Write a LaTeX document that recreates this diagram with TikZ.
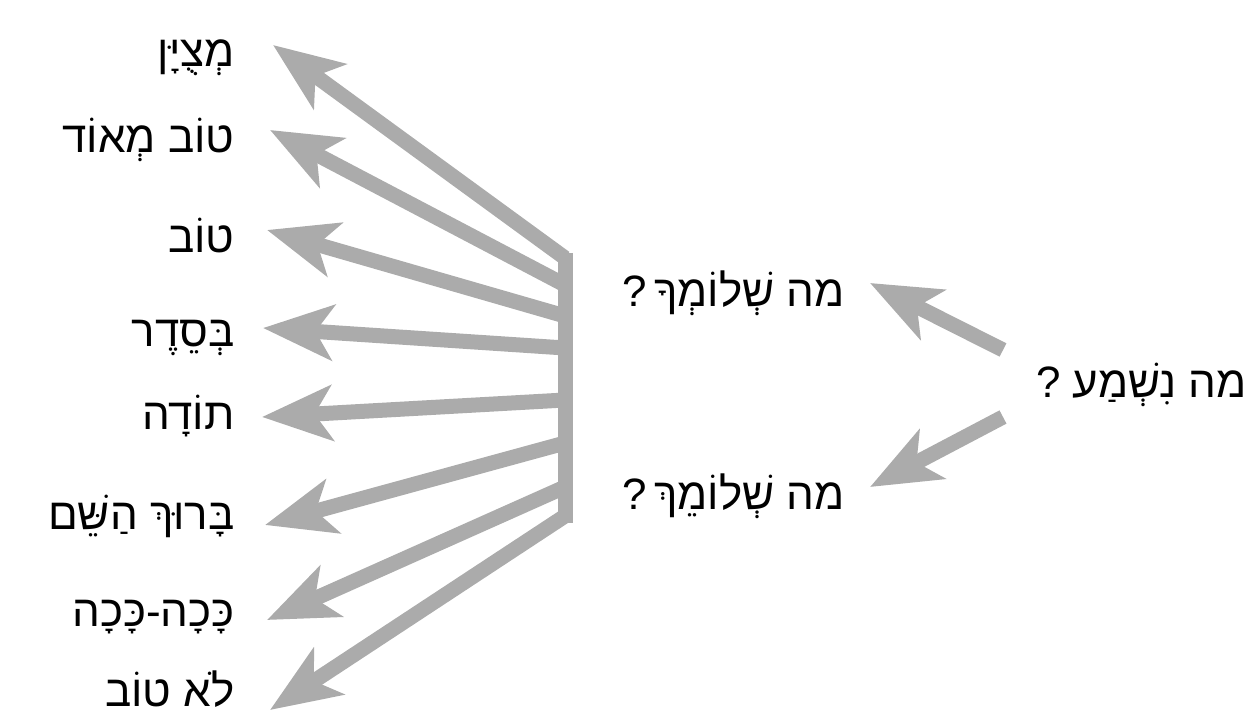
\documentclass[tikz,border=0pt]{standalone}
\usepackage{fontspec}
\newfontfamily\hebfont[Script=Hebrew]{Liberation Sans}
\TeXXeTstate=1
\usetikzlibrary{arrows.meta}

\begin{document}
\begin{tikzpicture}[x=0.02cm, y=-0.02cm,
    heb/.style={font=\hebfont\fontsize{25}{30}\selectfont, inner sep=0pt},
    fat/.style={line width=0.3cm, draw=black!33,
        -{Stealth[length=1.4cm, width=1.1cm, inset=0.35cm]}}]
    \useasboundingbox (0,0) rectangle (1259,722);
    % answers
    \node[heb, anchor=base east] (w1) at (235,67) {\beginR מְצֻיָּן\endR};
    \node[heb, anchor=base east] (w2) at (235,153) {\beginR טוֹב מְאוֹד\endR};
    \node[heb, anchor=base east] (w3) at (235,253) {\beginR טוֹב\endR};
    \node[heb, anchor=base east] (w4) at (235,347) {\beginR בְּסֵדֶר\endR};
    \node[heb, anchor=base east] (w5) at (235,430) {\beginR תוֹדָה\endR};
    \node[heb, anchor=base east] (w6) at (235,530) {\beginR בָּרוּךְ הַשֵּׁם\endR};
    \node[heb, anchor=base east] (w7) at (235,627) {\beginR כָּכָה-כָּכָה\endR};
    \node[heb, anchor=base east] (w8) at (235,707) {\beginR לֹא טוֹב\endR};
    % questions
    \node[heb, anchor=base east] (q) at (1247,398) {\beginR מה נִשְׁמַע ?\endR};
    \node[heb, anchor=base east] (m) at (845,307) {\beginR מה שְׁלוֹמְךָ\kern4pt?\endR};
    \node[heb, anchor=base east] (f) at (845,510) {\beginR מה שְׁלוֹמֵךְ\kern4pt?\endR};
    % the bar and where the arrows leave it
    \coordinate (top) at (565,253);
    \coordinate (bot) at (565,523);
    \draw[line width=0.3cm, black!33] (top) -- (bot);
    \coordinate (b1) at (565,258);
    \coordinate (b2) at (565,285);
    \coordinate (b3) at (565,316);
    \coordinate (b4) at (565,348);
    \coordinate (b5) at (565,400);
    \coordinate (b6) at (565,443);
    \coordinate (b7) at (565,487);
    \coordinate (b8) at (565,516);
    \draw[fat] (b1) -- ([shift={(38,-22)}]w1.base east);
    \draw[fat] (b2) -- ([shift={(35,-23)}]w2.base east);
    \draw[fat] (b3) -- ([shift={(32,-23)}]w3.base east);
    \draw[fat] (b4) -- ([shift={(28,-19)}]w4.base east);
    \draw[fat] (b5) -- ([shift={(27,-13)}]w5.base east);
    \draw[fat] (b6) -- ([shift={(30,-5)}]w6.base east);
    \draw[fat] (b7) -- ([shift={(32,-7)}]w7.base east);
    \draw[fat] (b8) -- ([shift={(35,3)}]w8.base east);
    \draw[fat] ([shift={(-244,-48)}]q.base east) -- ([shift={(25,-24)}]m.base east);
    \draw[fat] ([shift={(-244,19)}]q.base east) -- ([shift={(25,-23)}]f.base east);
\end{tikzpicture}
\end{document}
